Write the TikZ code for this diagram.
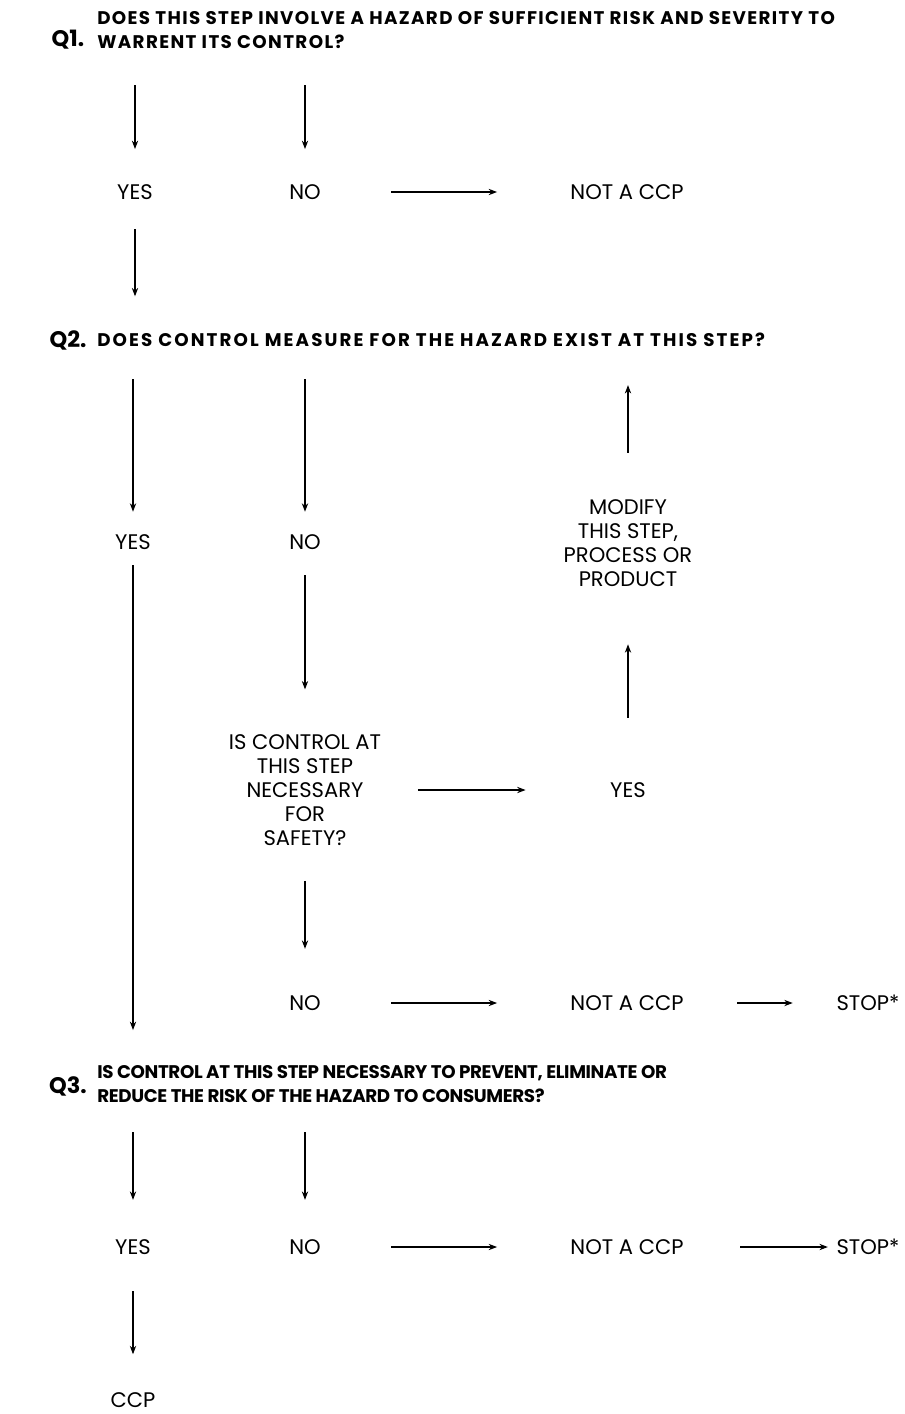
\documentclass[tikz,border=0pt]{standalone}
\usepackage{fontspec}
\setmainfont{Poppins}
\usetikzlibrary{arrows.meta, positioning}
\tikzset{
  qlabel/.style={inner sep=0pt, font=\fontsize{16}{19}\selectfont\bfseries},
  qtext/.style={anchor=west, align=left, inner sep=0pt,
    font=\fontsize{13}{17}\selectfont\bfseries\addfontfeature{LetterSpace=#1}},
  qtext/.default=0,
  answer/.style={align=center, inner sep=0pt,
    font=\fontsize{15}{17}\selectfont},
  flowarrow/.style={-{Stealth[length=6pt, width=4.5pt]}, line width=0.8pt},
  gap/.style 2 args={shorten <=#1, shorten >=#2}
}

\begin{document}
\begin{tikzpicture}[x=0.025cm, y=-0.025cm]
  \useasboundingbox (0,0) rectangle (904,1414);

  % Q1
  \node[qlabel] (q1)  at (68,40) {Q1.};
  \node[qtext=7.5] (q1t) at (97,30)
    {DOES THIS STEP INVOLVE A HAZARD OF SUFFICIENT RISK AND SEVERITY TO\\WARRENT ITS CONTROL?};

  \node[answer] (yes1) at (135,192) {YES};
  \node[answer] (no1)  at (305,192) {NO};
  \node[answer] (ccp1) at (627,192) {NOT A CCP};

  \draw[flowarrow, gap={26pt}{25pt}] (yes1 |- q1t.south) -- (yes1);
  \draw[flowarrow, gap={26pt}{25pt}] (no1 |- q1t.south) -- (no1);
  \draw[flowarrow, gap={50pt}{52pt}] (no1) -- (ccp1);

  % Q2
  \node[qlabel] (q2)  at (68,340) {Q2.};
  \node[qtext=11.5] (q2t) at (97,340)
    {DOES CONTROL MEASURE FOR THE HAZARD EXIST AT THIS STEP?};
  \draw[flowarrow, gap={21pt}{26pt}] (yes1) -- (yes1 |- q2t.north);

  \node[answer] (yes2)   at (133,542) {YES};
  \node[answer] (no2)    at (305,542) {NO};
  \node[answer] (modify) at (628,543) {MODIFY\\THIS STEP,\\PROCESS OR\\PRODUCT};
  \node[answer] (safety) at (305,790)
    {IS CONTROL AT\\THIS STEP\\NECESSARY\\FOR\\SAFETY?};
  \node[answer] (yes3)   at (628,790) {YES};

  \draw[flowarrow, gap={23pt}{16pt}] (yes2 |- q2t.south) -- (yes2);
  \draw[flowarrow, gap={23pt}{16pt}] (no2 |- q2t.south) -- (no2);
  \draw[flowarrow, gap={33pt}{27pt}] (modify) -- (modify |- q2t.south);
  \draw[flowarrow, gap={18pt}{32pt}] (no2) -- (safety);
  \draw[flowarrow, gap={26pt}{60pt}] (safety) -- (yes3);
  \draw[flowarrow, gap={46pt}{41pt}] (yes3) -- (modify);

  \node[answer] (no3)   at (305,1003) {NO};
  \node[answer] (ccp2)  at (627,1003) {NOT A CCP};
  \node[answer] (stop1) at (868,1003) {STOP*};

  \draw[flowarrow, gap={25pt}{33pt}] (safety) -- (no3);
  \draw[flowarrow, gap={50pt}{52pt}] (no3) -- (ccp2);
  \draw[flowarrow, gap={38pt}{31pt}] (ccp2) -- (stop1);

  % Q3
  \node[qlabel] (q3)  at (68,1086) {Q3.};
  \node[qtext=-2] (q3t) at (97,1084)
    {IS CONTROL AT THIS STEP NECESSARY TO PREVENT, ELIMINATE OR\\REDUCE THE RISK OF THE HAZARD TO CONSUMERS?};
  \draw[flowarrow, gap={11pt}{25pt}] (yes2) -- (yes2 |- q3t.north);

  \node[answer] (yes4)  at (133,1247) {YES};
  \node[answer] (no4)   at (305,1247) {NO};
  \node[answer] (ccp3)  at (627,1247) {NOT A CCP};
  \node[answer] (stop2) at (868,1247) {STOP*};
  \node[answer] (ccp)   at (133,1400) {CCP};

  \draw[flowarrow, gap={21pt}{28pt}] (yes4 |- q3t.south) -- (yes4);
  \draw[flowarrow, gap={21pt}{28pt}] (no4 |- q3t.south) -- (no4);
  \draw[flowarrow, gap={50pt}{52pt}] (no4) -- (ccp3);
  \draw[flowarrow, gap={40pt}{6pt}] (ccp3) -- (stop2);
  \draw[flowarrow, gap={26pt}{27pt}] (yes4) -- (ccp);

\end{tikzpicture}
\end{document}
